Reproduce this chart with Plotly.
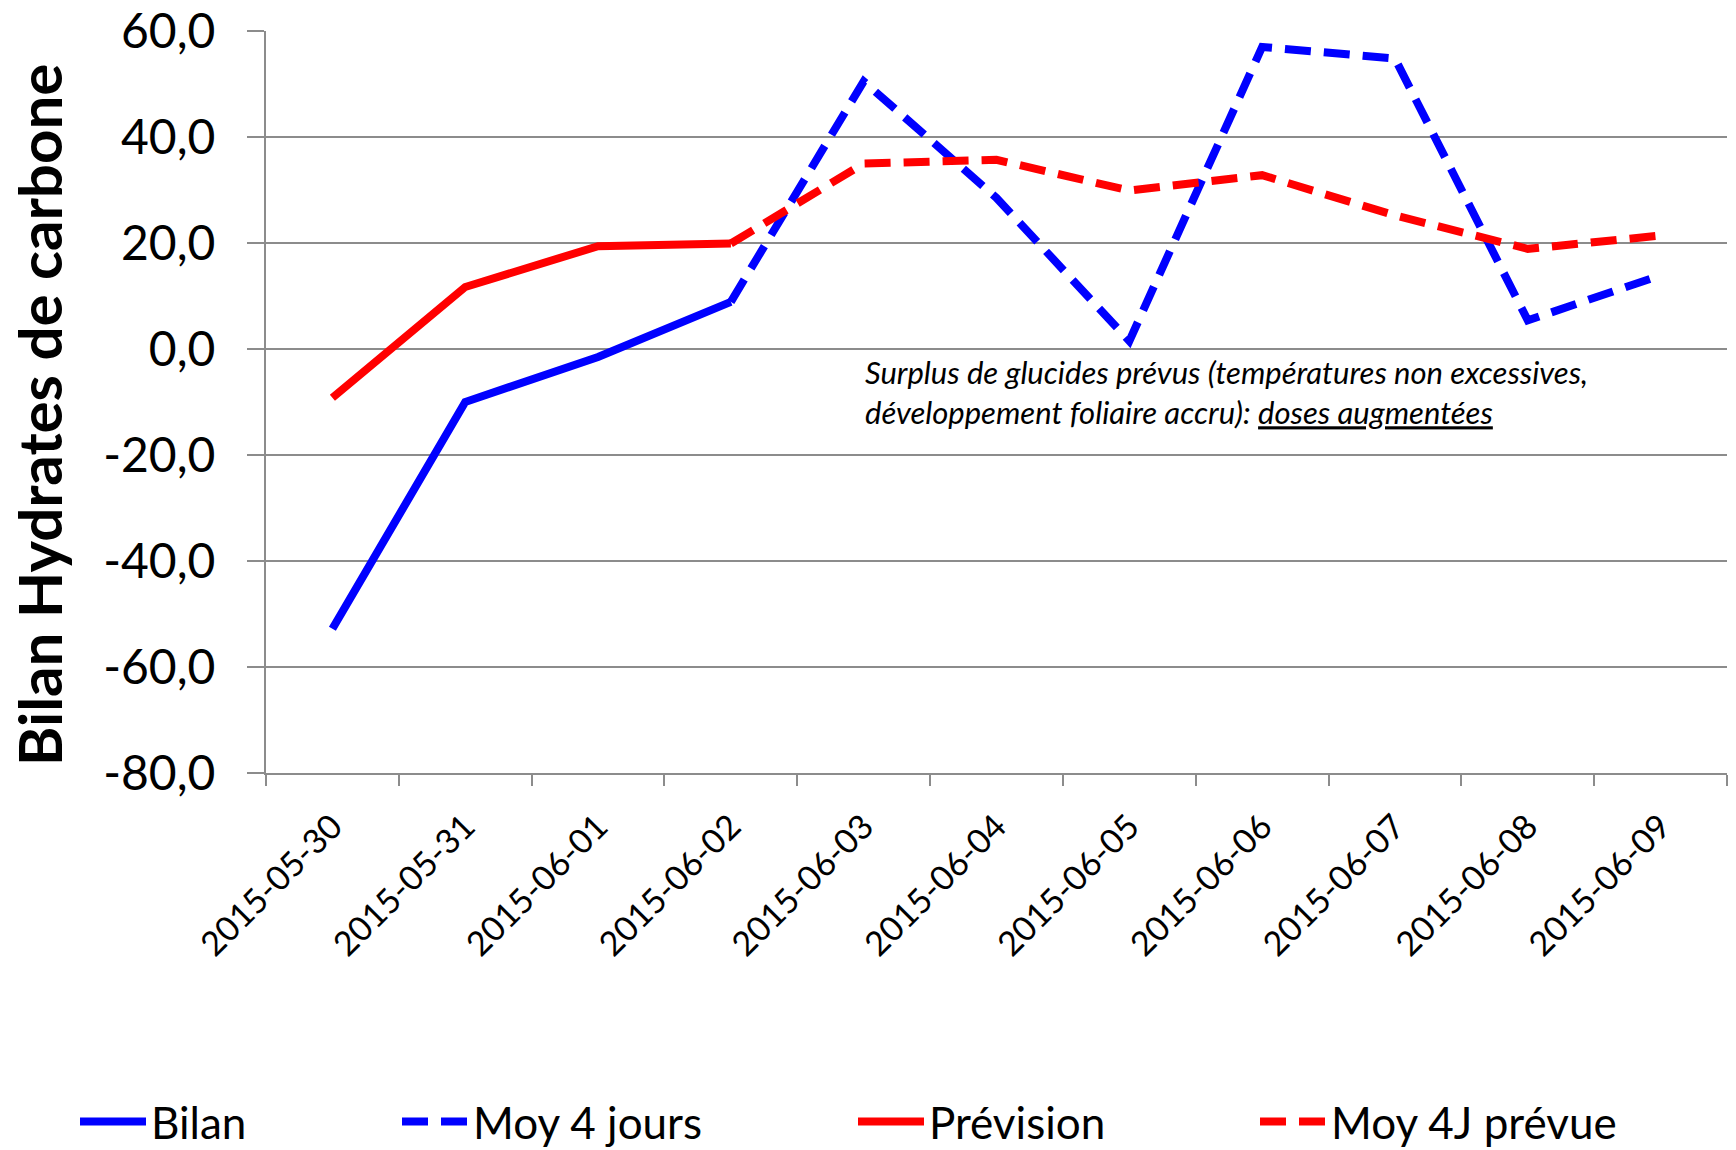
import plotly.graph_objects as go

categories = ["2015-05-30", "2015-05-31", "2015-06-01", "2015-06-02", "2015-06-03",
              "2015-06-04", "2015-06-05", "2015-06-06", "2015-06-07", "2015-06-08", "2015-06-09"]
bilan = [-52.8, -10.0, -1.5, 8.9, None, None, None, None, None, None, None]
moy_4_jours = [None, None, None, 8.9, 50.5, 28.5, 1.5, 57.0, 54.8, 5.4, 13.9]
prevision = [-9.2, 11.7, 19.4, 19.9, None, None, None, None, None, None, None]
moy_4j_prevue = [None, None, None, 19.9, 35.0, 35.7, 29.9, 32.8, 25.2, 18.9, 21.4]

y_tickvals = [-80, -60, -40, -20, 0, 20, 40, 60]
y_ticktext = ["-80,0", "-60,0", "-40,0", "-20,0", "0,0", "20,0", "40,0", "60,0"]

FONT = "Lato"
BLUE = "#0000ff"
RED = "#ff0000"
GRID = "#8c8c8c"
W, H = 1736, 1150
L, R, T, B = 266, 9, 31, 377
LW = 8
dash = "26px,13px"

fig = go.Figure()
fig.add_trace(go.Scatter(x=categories, y=bilan, name="Bilan", mode="lines",
                         line=dict(color=BLUE, width=LW), legend="legend"))
fig.add_trace(go.Scatter(x=categories, y=moy_4_jours, name="Moy 4 jours", mode="lines",
                         line=dict(color=BLUE, width=LW, dash=dash), legend="legend2"))
fig.add_trace(go.Scatter(x=categories, y=prevision, name="Prévision", mode="lines",
                         line=dict(color=RED, width=LW), legend="legend3"))
fig.add_trace(go.Scatter(x=categories, y=moy_4j_prevue, name="Moy 4J prévue", mode="lines",
                         line=dict(color=RED, width=LW, dash=dash), legend="legend4"))

leg_common = dict(orientation="h", xref="container", yref="container", xanchor="left",
                  yanchor="middle", y=1 - 1122 / H,
                  font=dict(family=FONT, size=44, color="black"),
                  bgcolor="rgba(0,0,0,0)", borderwidth=0, itemwidth=66)
text_starts = [152, 474, 930, 1332]
legs = {}
for i, ts in enumerate(text_starts):
    key = "legend" if i == 0 else f"legend{i+1}"
    legs[key] = dict(leg_common, x=(ts - 77) / W)

fig.update_layout(
    width=W, height=H,
    margin=dict(l=L, r=R, t=T, b=B, autoexpand=False),
    paper_bgcolor="white", plot_bgcolor="white",
    font=dict(family=FONT, color="black"),
    showlegend=True,
    **legs,
    xaxis=dict(type="category", tickson="boundaries", ticks="outside", ticklen=11,
               tickwidth=2, tickcolor=GRID, showgrid=False, showline=True,
               linecolor=GRID, linewidth=2, tickangle=-45,
               tickfont=dict(family=FONT, size=34, color="black"),
               ticklabelstandoff=18, range=[-0.5, len(categories) - 0.5]),
    yaxis=dict(range=[-80, 60], tickvals=y_tickvals, ticktext=y_ticktext,
               ticks="outside", ticklen=17, tickwidth=2, tickcolor=GRID,
               showgrid=True, gridcolor=GRID, gridwidth=2, zeroline=False,
               showline=True, linecolor=GRID, linewidth=2,
               tickfont=dict(family=FONT, size=48, color="black"),
               ticklabelstandoff=22, ticklabeloverflow="allow"),
)

fig.add_annotation(
    text="Bilan Hydrates de carbone", textangle=-90,
    xref="paper", yref="paper", x=0, y=0.5, xanchor="center", yanchor="middle",
    xshift=39 - L, yshift=-13, showarrow=False,
    font=dict(family=FONT, size=60, color="black", weight="bold"),
)
fig.add_annotation(
    text="<i>Surplus de glucides prévus (températures non excessives,<br>"
         "développement foliaire accru): <u>doses augmentées</u></i>",
    xref="paper", yref="y", x=(863 - L) / (W - L - R), y=-8.2,
    xanchor="left", yanchor="middle", align="left", showarrow=False,
    font=dict(family=FONT, size=31, color="black"),
)

fig.write_html("out.html", config={"displayModeBar": False},
               post_script="document.body.style.margin='0px';document.body.style.overflow='hidden';")
